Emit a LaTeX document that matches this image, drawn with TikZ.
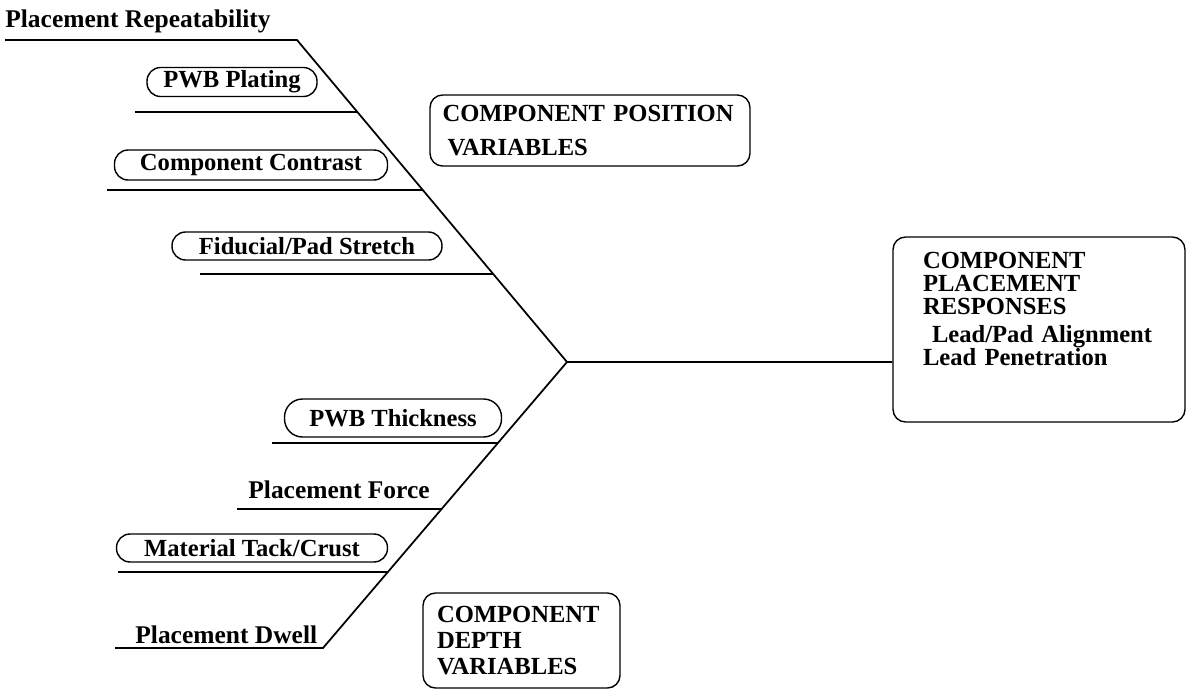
\documentclass[tikz,border=0pt]{standalone}
\usepackage{fontspec}
\setmainfont{Liberation Serif}
\usetikzlibrary{positioning,calc}

\begin{document}
\begin{tikzpicture}[x=0.02cm,y=-0.02cm,
  every node/.style={font=\fontsize{14}{17}\selectfont\bfseries,inner sep=0pt},
  cause/.style={draw=black,line width=0.8pt,rounded corners=0.27cm,minimum height=0.58cm},
  plain/.style={anchor=base west,font=\fontsize{14.5}{17}\selectfont\bfseries},
  grp/.style={draw=black,line width=0.8pt,rounded corners=0.25cm,align=left},
  ln/.style={line width=1pt}]
\useasboundingbox (0,0) rectangle (1186,690);
\coordinate (top) at (297,40);
\coordinate (jn) at (567,362);
\coordinate (bot) at (323,648);
% effect
\node[grp,font=\fontsize{14}{13}\selectfont\bfseries,inner xsep=0.6cm,text width=4.64cm,minimum width=5.84cm,minimum height=3.7cm] (resp) at (1039,329.5)
  {COMPONENT\\PLACEMENT\\RESPONSES\\[3pt]\hspace{0.18cm}Lead/Pad Alignment\\Lead Penetration\\[0.38cm]\mbox{}};
% groups
\node[grp,font=\fontsize{14}{19.8}\selectfont\bfseries,inner xsep=0.25cm,text width=5.9cm,minimum width=6.4cm,minimum height=1.42cm] (pos) at (590,130.5)
  {COMPONENT POSITION\\\hspace{0.1cm}VARIABLES};
\node[grp,font=\fontsize{14}{14.7}\selectfont\bfseries,inner xsep=0.28cm,text width=3.38cm,minimum width=3.94cm,minimum height=1.9cm] (dep) at (521.5,640.5)
  {COMPONENT\\DEPTH\\VARIABLES};
% causes
\node[plain] (rep) at (5,27) {Placement Repeatability};
\node[cause,minimum width=3.4cm] (plat) at (232,82) {PWB Plating};
\node[cause,minimum width=5.46cm,minimum height=0.6cm] (cont) at (251,165) {Component Contrast};
\node[cause,minimum width=5.4cm,minimum height=0.56cm] (fid) at (307,246) {Fiducial/Pad Stretch};
\node[cause,minimum width=4.34cm,minimum height=0.76cm,rounded corners=0.36cm] (thk) at (393,418) {PWB Thickness};
\node[plain] (frc) at (248,498) {Placement Force};
\node[cause,minimum width=5.42cm,minimum height=0.56cm] (tck) at (252,548) {Material Tack/Crust};
\node[plain] (dwl) at (135,643) {Placement Dwell};
% bones
\draw[ln] (5,40) -- (top) -- (jn) -- (jn -| resp.west);
\draw[ln] (jn) -- (bot) -- (115,648);
\draw[ln] (135,112) -- (357,112);
\draw[ln] (107,190) -- (423,190);
\draw[ln] (200,274) -- (493,274);
\draw[ln] (272,443) -- (498,443);
\draw[ln] (237,509) -- (442,509);
\draw[ln] (118,572) -- (388,572);
\end{tikzpicture}
\end{document}
